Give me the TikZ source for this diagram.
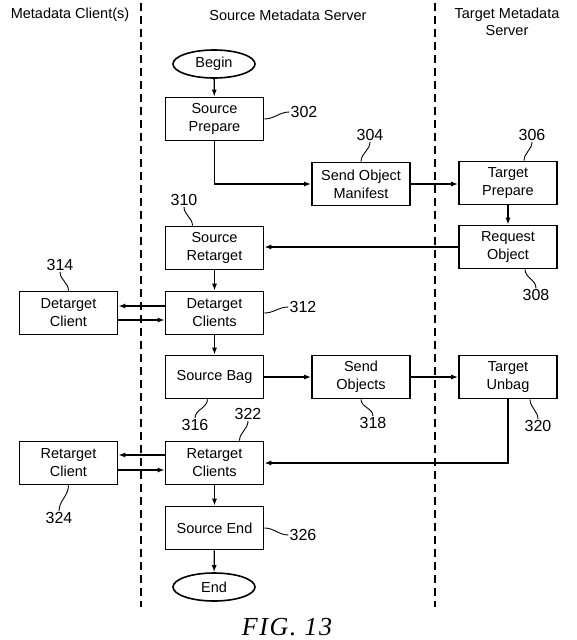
\documentclass[tikz,border=0pt]{standalone}
\usepackage{fontspec}
\setmainfont{Liberation Sans}
\newfontfamily\figfont[LetterSpace=6]{Liberation Serif}
\usetikzlibrary{shapes.geometric,arrows.meta}

\begin{document}
\begin{tikzpicture}[x=1pt,y=-1pt,
		box/.style={draw,line width=1.6pt,minimum width=98pt,minimum height=43pt,inner sep=0pt,align=center,font=\fontsize{14.5}{18}\selectfont},
		term/.style={draw,ellipse,line width=1.6pt,minimum width=82pt,minimum height=28pt,inner sep=0pt,font=\fontsize{14.5}{18}\selectfont},
		flow/.style={line width=1.3pt,-{Latex[length=7pt,width=5pt]}},
		lane/.style={line width=1.8pt,dash pattern=on 8pt off 5pt},
		num/.style={inner sep=1pt,font=\fontsize{16}{18}\selectfont},
		lead/.style={line width=0.9pt},
		head/.style={align=center,font=\fontsize{14.5}{17}\selectfont}]
		\useasboundingbox (0,0) rectangle (576,640);
		
		\coordinate (L1top) at (141,3);
		\coordinate (L1bot) at (141,607);
		\coordinate (L2top) at (435,3);
		\coordinate (L2bot) at (435,607);
		
		\node[term] (start) at (214,64) {Begin};
		\node[box] (sprep) at (214.5,119) {Source\\Prepare};
		\node[box] (manif) at (361,184) {Send Object\\Manifest};
		\node[box] (tprep) at (508,183) {Target\\Prepare};
		\node[box] (reqobj) at (508,247) {Request\\Object};
		\node[box] (sret) at (214.5,248) {Source\\Retarget};
		\node[box] (dcls) at (214.5,313) {Detarget\\Clients};
		\node[box] (dcl) at (68.5,313) {Detarget\\Client};
		\node[box] (sbag) at (214.5,377) {Source Bag};
		\node[box] (sendobj) at (361,377) {Send\\Objects};
		\node[box] (tunbag) at (508,377) {Target\\Unbag};
		\node[box] (rcls) at (214.5,463) {Retarget\\Clients};
		\node[box] (rcl) at (68.5,463) {Retarget\\Client};
		\node[box] (send) at (214.5,528) {Source End};
		\node[term] (finish) at (214,587) {End};
		
		\draw[lane] (L1top) -- (L1bot);
		\draw[lane] (L2top) -- (L2bot);
		
		\draw[flow] (start) -- (sprep);
		\draw[flow] (sprep.south) |- (manif.west);
		\draw[flow] (manif.east) -- (tprep.west |- manif.east);
		\draw[flow] (tprep) -- (reqobj);
		\draw[flow] (reqobj.west) -- (sret.east |- reqobj.west);
		\draw[flow] (sret) -- (dcls);
		\draw[flow] ([yshift=7pt]dcls.west) -- ([yshift=7pt]dcl.east);
		\draw[flow] ([yshift=-7pt]dcl.east) -- ([yshift=-7pt]dcls.west);
		\draw[flow] (dcls) -- (sbag);
		\draw[flow] (sbag) -- (sendobj);
		\draw[flow] (sendobj) -- (tunbag);
		\draw[flow] (tunbag.south) |- (rcls.east);
		\draw[flow] ([yshift=8pt]rcls.west) -- ([yshift=8pt]rcl.east);
		\draw[flow] ([yshift=-7pt]rcl.east) -- ([yshift=-7pt]rcls.west);
		\draw[flow] (rcls) -- (send);
		\draw[flow] (send) -- (finish);
		
		\node[head] (hclient) at (70,15) {Metadata Client(s)};
		\node[head] (hsource) at (288,15) {Source Metadata Server};
		\node[head] (htarget) at (507,22) {Target Metadata\\Server};
		
		\node[num] (l302) at (304,112) {302};
		\node[num] (l304) at (370,135) {304};
		\node[num] (l306) at (532,135) {306};
		\node[num] (l310) at (184,200) {310};
		\node[num] (l308) at (536,295) {308};
		\node[num] (l312) at (303,307) {312};
		\node[num] (l314) at (60,265) {314};
		\node[num] (l316) at (195,425) {316};
		\node[num] (l322) at (248,414) {322};
		\node[num] (l318) at (373,423) {318};
		\node[num] (l320) at (538,426) {320};
		\node[num] (l324) at (59,518) {324};
		\node[num] (l326) at (303,535) {326};
		
		\draw[lead] (sprep.east) to[out=0,in=180] (l302.west);
		\draw[lead] (l304.south) to[out=-90,in=90] (manif.north);
		\draw[lead] (l306.south) to[out=-90,in=90] ([xshift=16pt]tprep.north);
		\draw[lead] (l310.south) to[out=-90,in=90] ([xshift=-22pt]sret.north);
		\draw[lead] ([xshift=17pt]reqobj.south) to[out=-90,in=90] (l308.north);
		\draw[lead] (dcls.east) to[out=0,in=180] (l312.west);
		\draw[lead] (l314.south) to[out=-90,in=90] (dcl.north);
		\draw[lead] ([xshift=-7pt]sbag.south) to[out=-90,in=90] (l316.north);
		\draw[lead] (l322.south) to[out=-90,in=90] ([xshift=25pt]rcls.north);
		\draw[lead] (sendobj.south) to[out=-90,in=90] (l318.north);
		\draw[lead] ([xshift=22pt]tunbag.south) to[out=-90,in=90] (l320.north);
		\draw[lead] (rcl.south) to[out=-90,in=90] (l324.north);
		\draw[lead] (send.east) to[out=0,in=180] (l326.west);
		
		\node (fig) at (287,627) {\figfont\itshape\fontsize{26}{28}\selectfont FIG. 13};
	\end{tikzpicture}
\end{document}
